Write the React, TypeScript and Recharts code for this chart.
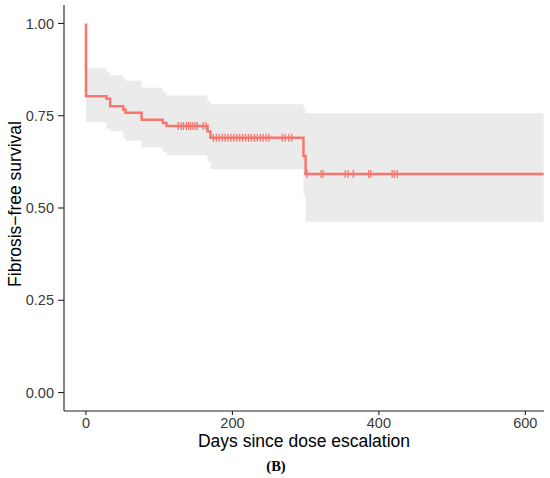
import React from 'react'
import {Area, ComposedChart, Line, Scatter, XAxis, YAxis} from 'recharts'

// Kaplan-Meier steps
const stepTimes = [0, 0, 28, 33, 51, 54, 76, 105, 110, 166, 170, 297, 300, 625]
const survival = [1, 0.803, 0.796, 0.776, 0.767, 0.758, 0.739, 0.730, 0.722, 0.707, 0.690, 0.641, 0.592, 0.592]
const upperCI = [1, 0.880, 0.868, 0.860, 0.852, 0.845, 0.826, 0.815, 0.805, 0.790, 0.781, 0.770, 0.757, 0.757]
const lowerCI = [1, 0.732, 0.715, 0.708, 0.690, 0.682, 0.664, 0.652, 0.643, 0.625, 0.605, 0.535, 0.463, 0.463]

// censored observations (days)
const censorTimes = [
    126, 130, 133, 137, 140, 143, 146, 149, 152, 160, 164,
    174, 178, 182, 186, 190, 194, 198, 202, 206, 210, 214, 218, 222, 226, 230, 234, 238, 242, 246, 250,
    268, 272, 277, 281,
    302, 321, 324, 354, 358, 365, 386, 389, 418, 421, 425,
]

const xTicks = [0, 200, 400, 600]
const yTicks = [0, 0.25, 0.5, 0.75, 1]

const COLOR = '#F8766D'
const FONT = '"Liberation Sans", Arial, sans-serif'

const curve = stepTimes.map((t, i) => ({
    time: t,
    surv: survival[i],
    band: [lowerCI[i], upperCI[i]],
}))

const survAt = (t: number) => {
    let s = survival[0]
    stepTimes.forEach((st, i) => {
        if (st <= t) s = survival[i]
    })
    return s
}

const censors = censorTimes.map(t => ({time: t, surv: survAt(t)}))

const CensorMark = (props: any) => {
    const {cx, cy} = props
    if (cx == null || cy == null) return null
    return (
        <g stroke={COLOR} strokeWidth={1.3}>
            <line x1={cx} x2={cx} y1={cy - 4} y2={cy + 4} />
            <line x1={cx - 3} x2={cx + 3} y1={cy} y2={cy} />
        </g>
    )
}

const tickStyle = {fontSize: 14.5, fill: '#3A3A3A', fontFamily: FONT}

export default function App() {
    return (
        <div style={{position: 'absolute', left: 0, top: 0, width: 550, height: 478, background: '#fff'}}>
            <ComposedChart width={550} height={478} data={curve}
                           margin={{top: 5, right: 6, bottom: 22, left: 0}}>
                <XAxis dataKey="time" type="number" domain={[-30, 625.5]} allowDataOverflow
                       ticks={xTicks} tick={tickStyle} tickSize={4} tickMargin={3} height={45}
                       axisLine={{stroke: '#222', strokeWidth: 1.1}} tickLine={{stroke: '#222', strokeWidth: 1.1}}
                       label={{
                           content: () => (
                               <text x={304} y={447} textAnchor="middle" fontSize={17.5}
                                     fontFamily={FONT} fill="#000">Days since dose escalation</text>
                           )
                       }} />
                <YAxis type="number" domain={[-0.05, 1.05]} allowDataOverflow ticks={yTicks}
                       tickFormatter={(v: number) => v.toFixed(2)} tick={tickStyle} tickSize={6} tickMargin={4}
                       width={64} axisLine={{stroke: '#222', strokeWidth: 1.1}}
                       tickLine={{stroke: '#222', strokeWidth: 1.1}}
                       label={{
                           content: () => (
                               <text x={20.5} y={204} transform="rotate(-90 20.5 204)" textAnchor="middle"
                                     fontSize={17.5} fontFamily={FONT} fill="#000">Fibrosis−free survival</text>
                           )
                       }} />
                <Area dataKey="band" type="stepAfter" fill="#EBEBEB" fillOpacity={1} stroke="none"
                      isAnimationActive={false} />
                <Line dataKey="surv" type="stepAfter" stroke={COLOR} strokeWidth={2.5} dot={false}
                      isAnimationActive={false} />
                <Scatter data={censors} dataKey="surv" shape={<CensorMark />} isAnimationActive={false} />
            </ComposedChart>
            <div style={{
                position: 'absolute', left: 0, width: 552, top: 458, textAlign: 'center', lineHeight: '16px',
                fontFamily: '"Liberation Serif", "Times New Roman", serif', fontWeight: 'bold', fontSize: 14.5,
            }}>(B)</div>
        </div>
    )
}
